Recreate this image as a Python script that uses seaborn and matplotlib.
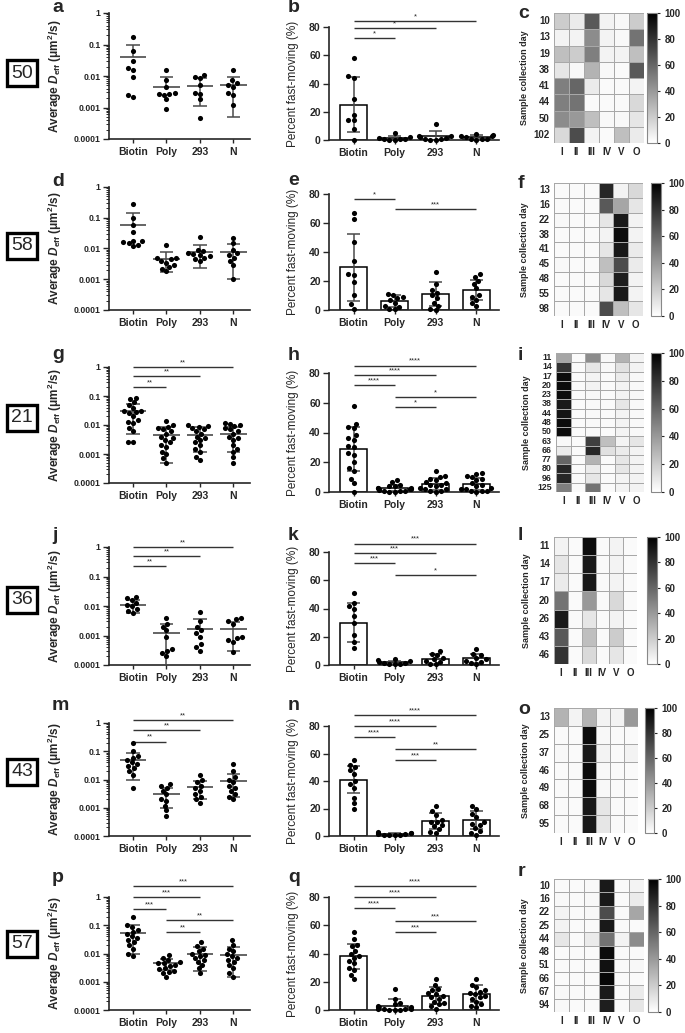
import numpy as np
import pandas as pd
import matplotlib
matplotlib.use("Agg")
import matplotlib.pyplot as plt
import seaborn as sns
from matplotlib.ticker import LogLocator, NullFormatter

# ---------------- data ----------------
groups = ["Biotin", "Poly", "293", "N"]
cell_types = ["I", "II", "III", "IV", "V", "O"]

# row 50
a_deff = [[0.17, 0.06, 0.03, 0.018, 0.015, 0.0095, 0.0022, 0.0025],
          [0.016, 0.0075, 0.0045, 0.0028, 0.0027, 0.0026, 0.0025, 0.0018, 0.0009],
          [0.011, 0.0095, 0.0085, 0.005, 0.0028, 0.0027, 0.0018, 0.00045],
          [0.016, 0.0075, 0.006, 0.005, 0.0045, 0.0028, 0.0025, 0.0012]]
a_mean = [0.04, 0.0045, 0.0048, 0.005]
a_sd = [0.055, 0.005, 0.0037, 0.0045]
a_sig = []
b_pct = [[58, 45, 44, 29, 18, 14, 14, 8, 0],
         [5, 2, 1.5, 1, 0.5, 1, 0.3, 0.2],
         [11, 3, 2.5, 2, 1.5, 1, 0.5, 0.3, 0],
         [4, 3.5, 3, 2.5, 2, 1, 1, 0.5, 0.3]]
b_mean = [25, 1.2, 2.8, 2.2]
b_sd = [19.5, 1.5, 3.5, 1.5]
b_sig = [(0, 1, 72, "*"), (0, 2, 79, "*"), (0, 3, 84, "*")]
c_days = [10, 13, 19, 38, 41, 44, 50, 102]
c_vals = [[20, 8, 65, 5, 3, 20],
          [5, 5, 45, 5, 3, 55],
          [25, 20, 50, 5, 5, 25],
          [10, 3, 30, 3, 2, 65],
          [50, 60, 8, 2, 2, 5],
          [50, 55, 2, 2, 2, 15],
          [45, 40, 25, 3, 3, 10],
          [15, 70, 5, 2, 25, 8]]

# row 58
d_deff = [[0.28, 0.1, 0.06, 0.035, 0.018, 0.017, 0.016, 0.015, 0.013, 0.012],
          [0.013, 0.005, 0.0048, 0.0045, 0.004, 0.0035, 0.003, 0.0025, 0.0022, 0.0018],
          [0.023, 0.009, 0.008, 0.007, 0.0065, 0.006, 0.0055, 0.005, 0.0045, 0.004],
          [0.022, 0.015, 0.009, 0.007, 0.006, 0.005, 0.004, 0.003, 0.001]]
d_mean = [0.06, 0.0047, 0.0078, 0.0075]
d_sd = [0.085, 0.003, 0.0055, 0.0065]
d_sig = []
e_pct = [[67, 63, 47, 34, 25, 24, 19, 10, 4, 1],
         [11, 10, 9, 8, 7, 5, 3, 2, 1, 0.5],
         [26, 18, 14, 12, 10, 8, 5, 3, 1, 0],
         [25, 23, 20, 18, 15, 10, 9, 7, 5, 3]]
e_mean = [29.5, 6, 11, 13.8]
e_sd = [23, 4, 8, 7]
e_sig = [(0, 1, 76.5, "*"), (1, 3, 69.5, "***")]
f_days = [13, 16, 22, 38, 41, 45, 48, 55, 98]
f_vals = [[2, 2, 2, 85, 5, 15],
          [2, 2, 2, 65, 35, 10],
          [3, 2, 2, 10, 90, 5],
          [2, 2, 2, 5, 95, 5],
          [2, 2, 2, 10, 90, 8],
          [3, 2, 2, 25, 70, 8],
          [2, 2, 2, 15, 88, 5],
          [2, 2, 2, 10, 90, 5],
          [2, 2, 2, 70, 25, 10]]

# row 21
g_deff = [[0.085, 0.08, 0.06, 0.05, 0.04, 0.03, 0.03, 0.028, 0.025, 0.02, 0.015, 0.013, 0.012, 0.008, 0.006, 0.0025, 0.0025],
          [0.014, 0.01, 0.0085, 0.008, 0.007, 0.006, 0.005, 0.004, 0.0035, 0.003, 0.0025, 0.002, 0.0018, 0.0012, 0.001, 0.0007, 0.0005],
          [0.01, 0.009, 0.0085, 0.008, 0.007, 0.006, 0.005, 0.004, 0.0035, 0.003, 0.0025, 0.002, 0.0015, 0.0012, 0.0008, 0.0006],
          [0.012, 0.011, 0.01, 0.009, 0.008, 0.007, 0.006, 0.005, 0.004, 0.0035, 0.003, 0.002, 0.0015, 0.0012, 0.0008, 0.0005]]
g_mean = [0.03, 0.0045, 0.0047, 0.005]
g_sd = [0.025, 0.004, 0.0035, 0.0038]
g_sig = [(0, 1, 0.2, "**"), (0, 2, 0.5, "**"), (0, 3, 1.0, "**")]
h_pct = [[58, 46, 44, 43, 38, 36, 35, 31, 30, 26, 25, 20, 16, 14, 9, 6, 0],
         [8, 7, 5, 4, 4, 3, 3, 2.5, 2, 2, 1.5, 1, 1, 0.5, 0.3, 0],
         [14, 11, 10, 9, 8, 7, 6, 5, 5, 4, 3, 2, 2, 1, 0.5, 0],
         [13, 12, 11, 10, 9, 8, 6, 5, 4, 3, 2, 2, 1, 1, 0.5, 0]]
h_mean = [29, 2.5, 5.5, 5.5]
h_sd = [15, 2, 4, 4]
h_sig = [(0, 1, 72, "****"), (0, 2, 78.5, "****"), (0, 3, 85, "****"),
         (1, 3, 64, "*"), (1, 2, 57, "*")]
i_days = [11, 14, 17, 20, 23, 38, 44, 48, 50, 63, 66, 77, 80, 96, 125]
i_vals = [[35, 2, 45, 3, 30, 5],
          [80, 2, 10, 3, 12, 5],
          [95, 2, 5, 2, 8, 3],
          [95, 2, 5, 2, 5, 3],
          [95, 2, 3, 2, 5, 3],
          [90, 2, 3, 2, 10, 3],
          [92, 2, 3, 2, 5, 3],
          [95, 2, 3, 2, 5, 3],
          [95, 2, 3, 2, 5, 3],
          [3, 2, 75, 25, 5, 10],
          [8, 2, 85, 12, 8, 5],
          [60, 2, 30, 2, 10, 5],
          [85, 2, 8, 2, 10, 5],
          [85, 2, 10, 2, 5, 5],
          [50, 2, 55, 2, 5, 5]]

# row 36
j_deff = [[0.02, 0.018, 0.016, 0.013, 0.011, 0.01, 0.008, 0.007, 0.006],
          [0.004, 0.0025, 0.002, 0.0015, 0.0009, 0.0003, 0.00035, 0.00025, 0.0002],
          [0.0065, 0.003, 0.002, 0.0015, 0.0012, 0.0009, 0.0005, 0.0004, 0.0003],
          [0.004, 0.0035, 0.003, 0.0025, 0.0009, 0.0008, 0.0007, 0.0006, 0.00028]]
j_mean = [0.011, 0.00125, 0.0017, 0.0016]
j_sd = [0.005, 0.0012, 0.002, 0.0013]
j_sig = [(0, 1, 0.23, "**"), (0, 2, 0.5, "**"), (0, 3, 1.0, "**")]
k_pct = [[51, 44, 42, 40, 35, 30, 21, 16, 12],
         [4.5, 3.5, 2.5, 2, 1.5, 1.5, 1, 0.5, 0.5],
         [10, 8, 7, 5, 4, 3, 2, 1, 0.5],
         [11, 8, 7, 5, 4, 3, 2, 1.5, 0.5]]
k_mean = [30, 1.8, 4.5, 4.7]
k_sd = [14, 1.2, 3.5, 3.2]
k_sig = [(0, 1, 72, "***"), (0, 2, 79, "***"), (0, 3, 86, "***"), (1, 3, 64, "*")]
l_days = [11, 14, 17, 20, 26, 43, 46]
l_vals = [[5, 2, 95, 2, 5, 2],
          [10, 2, 90, 2, 5, 2],
          [8, 2, 90, 2, 5, 2],
          [55, 2, 40, 2, 15, 2],
          [90, 2, 10, 2, 5, 2],
          [65, 2, 25, 2, 20, 2],
          [80, 2, 15, 2, 10, 2]]

# row 43
m_deff = [[0.2, 0.1, 0.07, 0.06, 0.05, 0.04, 0.035, 0.03, 0.025, 0.02, 0.015, 0.005],
          [0.007, 0.006, 0.005, 0.004, 0.003, 0.002, 0.0018, 0.0012, 0.0008, 0.0005],
          [0.015, 0.01, 0.008, 0.006, 0.005, 0.004, 0.003, 0.0025, 0.002, 0.0015],
          [0.035, 0.02, 0.012, 0.01, 0.008, 0.006, 0.005, 0.004, 0.003, 0.0025, 0.002]]
m_mean = [0.05, 0.003, 0.0055, 0.009]
m_sd = [0.04, 0.002, 0.0035, 0.0065]
m_sig = [(0, 1, 0.22, "**"), (0, 2, 0.55, "**"), (0, 3, 1.3, "**")]
n_pct = [[55, 52, 50, 48, 45, 40, 38, 35, 28, 24, 20],
         [3, 2.5, 2, 2, 1.5, 1.5, 1, 1, 0.5, 0.5],
         [22, 18, 15, 12, 10, 10, 8, 7, 5, 3, 2],
         [22, 20, 16, 14, 10, 9, 8, 6, 4, 2, 1]]
n_mean = [41, 1.6, 11, 11.5]
n_sd = [10, 0.8, 6, 6.5]
n_sig = [(0, 1, 72, "****"), (0, 2, 80, "****"), (0, 3, 88, "****"),
         (1, 3, 63, "**"), (1, 2, 55, "***")]
o_days = [13, 25, 37, 46, 49, 68, 95]
o_vals = [[30, 5, 30, 5, 5, 40],
          [2, 2, 95, 3, 2, 2],
          [3, 2, 90, 5, 2, 5],
          [2, 2, 95, 3, 2, 2],
          [2, 2, 95, 3, 2, 2],
          [2, 2, 90, 10, 2, 2],
          [2, 2, 90, 10, 2, 2]]

# row 57
p_deff = [[0.2, 0.1, 0.09, 0.07, 0.06, 0.05, 0.04, 0.035, 0.03, 0.025, 0.02, 0.015, 0.01, 0.008],
          [0.009, 0.007, 0.006, 0.005, 0.0048, 0.0045, 0.004, 0.0035, 0.003, 0.0028, 0.0025, 0.0022, 0.002, 0.0015],
          [0.025, 0.018, 0.015, 0.012, 0.01, 0.009, 0.008, 0.007, 0.006, 0.005, 0.004, 0.003, 0.002],
          [0.03, 0.02, 0.015, 0.012, 0.01, 0.008, 0.007, 0.006, 0.005, 0.004, 0.003, 0.002, 0.0015]]
p_mean = [0.055, 0.0045, 0.0095, 0.009]
p_sd = [0.045, 0.0018, 0.007, 0.0075]
p_sig = [(0, 1, 0.38, "***"), (0, 2, 1.0, "***"), (0, 3, 2.4, "***"),
         (1, 3, 0.15, "**"), (1, 2, 0.057, "**")]
q_pct = [[55, 50, 46, 45, 42, 40, 38, 37, 35, 33, 30, 28, 25, 22],
         [15, 8, 5, 4, 3, 2, 2, 1, 1, 0.5, 0.5, 0, 0, 0],
         [22, 18, 15, 14, 12, 11, 10, 9, 8, 6, 5, 4, 3, 1],
         [22, 18, 16, 14, 13, 12, 11, 10, 9, 8, 6, 4, 3, 2]]
q_mean = [38, 3, 10, 11.5]
q_sd = [9, 5, 6, 6]
q_sig = [(0, 1, 72, "****"), (0, 2, 80, "****"), (0, 3, 88, "****"),
         (1, 3, 63, "***"), (1, 2, 55, "***")]
r_days = [10, 16, 22, 25, 44, 48, 51, 66, 67, 94]
r_vals = [[2, 2, 3, 90, 2, 5],
          [3, 2, 3, 90, 2, 8],
          [5, 2, 3, 70, 2, 35],
          [5, 2, 2, 90, 2, 2],
          [10, 2, 8, 55, 5, 45],
          [2, 2, 2, 95, 2, 2],
          [2, 2, 2, 93, 2, 3],
          [2, 2, 2, 97, 2, 2],
          [3, 2, 2, 90, 2, 8],
          [3, 2, 2, 88, 2, 10]]

patients = ["50", "58", "21", "36", "43", "57"]

# ---------------- styling ----------------
sns.set_style("ticks")
plt.rcParams["font.family"] = ["Liberation Sans", "DejaVu Sans"]
plt.rcParams["mathtext.fontset"] = "custom"
plt.rcParams["mathtext.rm"] = "Liberation Sans:bold"
plt.rcParams["mathtext.it"] = "Liberation Sans:italic:bold"
plt.rcParams["mathtext.bf"] = "Liberation Sans:bold"

W, H = 685, 1033
fig = plt.figure(figsize=(W / 100, H / 100), dpi=100)
fig.patch.set_facecolor("white")


def rect(l, t, r, b):
    return [l / W, 1 - b / H, (r - l) / W, (b - t) / H]


def long_frame(vals):
    rows = [(g, v) for g, vs in zip(groups, vals) for v in vs]
    return pd.DataFrame(rows, columns=["group", "value"])


def style_axes(ax):
    for s in ["top", "right"]:
        ax.spines[s].set_visible(False)
    for s in ["left", "bottom"]:
        ax.spines[s].set_linewidth(1.2)
    ax.set_xlabel("")
    ax.tick_params(axis="x", length=3, width=1, labelsize=7.5, pad=3)
    for t in ax.get_xticklabels() + ax.get_yticklabels():
        t.set_fontweight("bold")


def draw_sig(ax, sig):
    for x1, x2, y, lab in sig:
        ax.plot([x1, x2], [y, y], color="#333333", lw=1.0, clip_on=False,
                solid_capstyle="butt")
        ax.annotate(lab, ((x1 + x2) / 2, y), xytext=(0, 0.5),
                    textcoords="offset points", ha="center", va="bottom",
                    fontsize=5.5, annotation_clip=False)


def error_lines(ax, mean, sd, mean_w, cap_w, lower_any):
    mean = np.array(mean, dtype=float)
    sd = np.array(sd, dtype=float)
    x = np.arange(len(mean))
    up, lo = mean + sd, mean - sd
    c = "#4a4a4a"
    if mean_w:
        ax.hlines(mean, x - mean_w / 2, x + mean_w / 2, colors=c, lw=1.2, zorder=3)
    ax.vlines(x, mean, up, colors=c, lw=1.1, zorder=3)
    ax.hlines(up, x - cap_w / 2, x + cap_w / 2, colors=c, lw=1.1, zorder=3)
    ok = np.ones_like(lo, dtype=bool) if lower_any else lo > 0
    ax.vlines(x[ok], np.maximum(lo[ok], 0) if lower_any else lo[ok], mean[ok],
              colors=c, lw=1.1, zorder=3)
    ax.hlines(lo[ok], x[ok] - cap_w / 2, x[ok] + cap_w / 2, colors=c, lw=1.1, zorder=3)


def deff_panel(ax, vals, mean, sd, sig):
    ax.set_yscale("log")
    sns.swarmplot(data=long_frame(vals), x="group", y="value", order=groups,
                  color="black", size=3.7, ax=ax, zorder=4, clip_on=False)
    error_lines(ax, mean, sd, 0.8, 0.4, False)
    ax.set_ylim(1e-4, 1)
    ax.set_xlim(-0.72, 3.5)
    ax.set_yticks([1e-4, 1e-3, 1e-2, 1e-1, 1],
                  labels=["0.0001", "0.001", "0.01", "0.1", "1"])
    ax.yaxis.set_minor_locator(LogLocator(base=10, subs=np.arange(2, 10) * 1.0, numticks=20))
    ax.yaxis.set_minor_formatter(NullFormatter())
    ax.tick_params(axis="y", which="major", length=4, width=1, labelsize=6.3, pad=2)
    ax.tick_params(axis="y", which="minor", length=2, width=0.7)
    ax.set_ylabel(r"Average $D_{\mathrm{eff}}$ (μm$^2$/s)", fontsize=8.5,
                  fontweight="bold")
    ax.yaxis.set_label_coords(-0.32, 0.5)
    style_axes(ax)
    draw_sig(ax, sig)


def pct_panel(ax, vals, mean, sd, sig):
    sns.barplot(x=groups, y=mean, color="white", edgecolor="black", linewidth=1.1,
                width=0.65, errorbar=None, ax=ax, zorder=1)
    sns.swarmplot(data=long_frame(vals), x="group", y="value", order=groups,
                  color="black", size=3.7, ax=ax, zorder=4, clip_on=False)
    error_lines(ax, mean, sd, 0, 0.32, True)
    ax.set_ylim(0, 80)
    ax.set_xlim(-0.6, 3.55)
    ax.set_yticks([0, 20, 40, 60, 80])
    ax.tick_params(axis="y", length=4, width=1, labelsize=7.5, pad=2)
    ax.set_ylabel("Percent fast-moving (%)", fontsize=8.5)
    ax.yaxis.set_label_coords(-0.175, 0.5)
    style_axes(ax)
    draw_sig(ax, sig)


def heat_panel(ax, cax, days, vals, fs=7):
    df = pd.DataFrame(vals, index=days, columns=cell_types)
    sns.heatmap(df, ax=ax, cbar_ax=cax, cmap="gray_r", vmin=0, vmax=100,
                linewidths=0.6, linecolor="#a8a8a8",
                xticklabels=True, yticklabels=True,
                cbar_kws={"ticks": [0, 20, 40, 60, 80, 100]})
    ax.tick_params(length=0, labelsize=fs, pad=3)
    ax.tick_params(axis="x", labelsize=7)
    ax.set_yticklabels(ax.get_yticklabels(), rotation=0, fontweight="bold")
    ax.set_xticklabels(ax.get_xticklabels(), rotation=0, fontweight="bold")
    ax.set_ylabel("Sample collection day", fontsize=6.5, fontweight="bold")
    ax.yaxis.set_label_coords(-0.28, 0.5)
    ax.set_xlabel("")
    cax.tick_params(labelsize=7, length=2.5, width=0.8, pad=3)
    for t in cax.get_yticklabels():
        t.set_fontweight("bold")
    cbar = ax.collections[0].colorbar
    cbar.outline.set_edgecolor("#888888")
    cbar.outline.set_linewidth(0.8)


# ---------------- layout (pixel boxes) ----------------
rows = [
    dict(a=(109, 13, 250, 139), b=(329, 27, 499, 140), c=(554, 13, 644, 143), cb=(647, 13, 657, 143),
         box=73, let=(8, 8, 13)),
    dict(a=(109, 187, 250, 310), b=(329, 194, 499, 310), c=(554, 183, 643, 316), cb=(651, 183, 661, 316),
         box=246, let=(182, 181, 183)),
    dict(a=(109, 367, 250, 483), b=(329, 373, 499, 492), c=(556, 353, 644, 492), cb=(651, 353, 661, 492),
         box=418, let=(354, 355, 355)),
    dict(a=(109, 547, 250, 665), b=(329, 552, 499, 665), c=(554, 537, 637, 664), cb=(647, 537, 657, 664),
         box=600, let=(535, 535, 535)),
    dict(a=(109, 723, 250, 836), b=(329, 726, 499, 836), c=(554, 708, 638, 833), cb=(645, 708, 654, 833),
         box=772, let=(706, 706, 710)),
    dict(a=(109, 897, 250, 1010), b=(329, 897, 499, 1010), c=(554, 879, 644, 1012), cb=(648, 879, 658, 1012),
         box=944, let=(878, 878, 872)),
]

deff_sets = [(a_deff, a_mean, a_sd, a_sig), (d_deff, d_mean, d_sd, d_sig),
             (g_deff, g_mean, g_sd, g_sig), (j_deff, j_mean, j_sd, j_sig),
             (m_deff, m_mean, m_sd, m_sig), (p_deff, p_mean, p_sd, p_sig)]
pct_sets = [(b_pct, b_mean, b_sd, b_sig), (e_pct, e_mean, e_sd, e_sig),
            (h_pct, h_mean, h_sd, h_sig), (k_pct, k_mean, k_sd, k_sig),
            (n_pct, n_mean, n_sd, n_sig), (q_pct, q_mean, q_sd, q_sig)]
heat_sets = [(c_days, c_vals), (f_days, f_vals), (i_days, i_vals),
             (l_days, l_vals), (o_days, o_vals), (r_days, r_vals)]
letters = ["abc", "def", "ghi", "jkl", "mno", "pqr"]

for i, row in enumerate(rows):
    ax1 = fig.add_axes(rect(*row["a"]))
    deff_panel(ax1, *deff_sets[i])
    ax2 = fig.add_axes(rect(*row["b"]))
    pct_panel(ax2, *pct_sets[i])
    ax3 = fig.add_axes(rect(*row["c"]))
    cax = fig.add_axes(rect(*row["cb"]))
    heat_panel(ax3, cax, *heat_sets[i], fs=6.4 if len(heat_sets[i][0]) > 12 else 7)

    for x, y, L in zip((52, 288, 518), row["let"], letters[i]):
        fig.text(x / W, 1 - y / H, L, fontsize=14, fontweight="bold",
                 ha="left", va="center")
    fig.text(22 / W, 1 - row["box"] / H, patients[i], fontsize=14,
             ha="center", va="center",
             bbox=dict(boxstyle="square,pad=0.22", fc="white", ec="black", lw=2.4))

fig.savefig("out.png", dpi=100)
